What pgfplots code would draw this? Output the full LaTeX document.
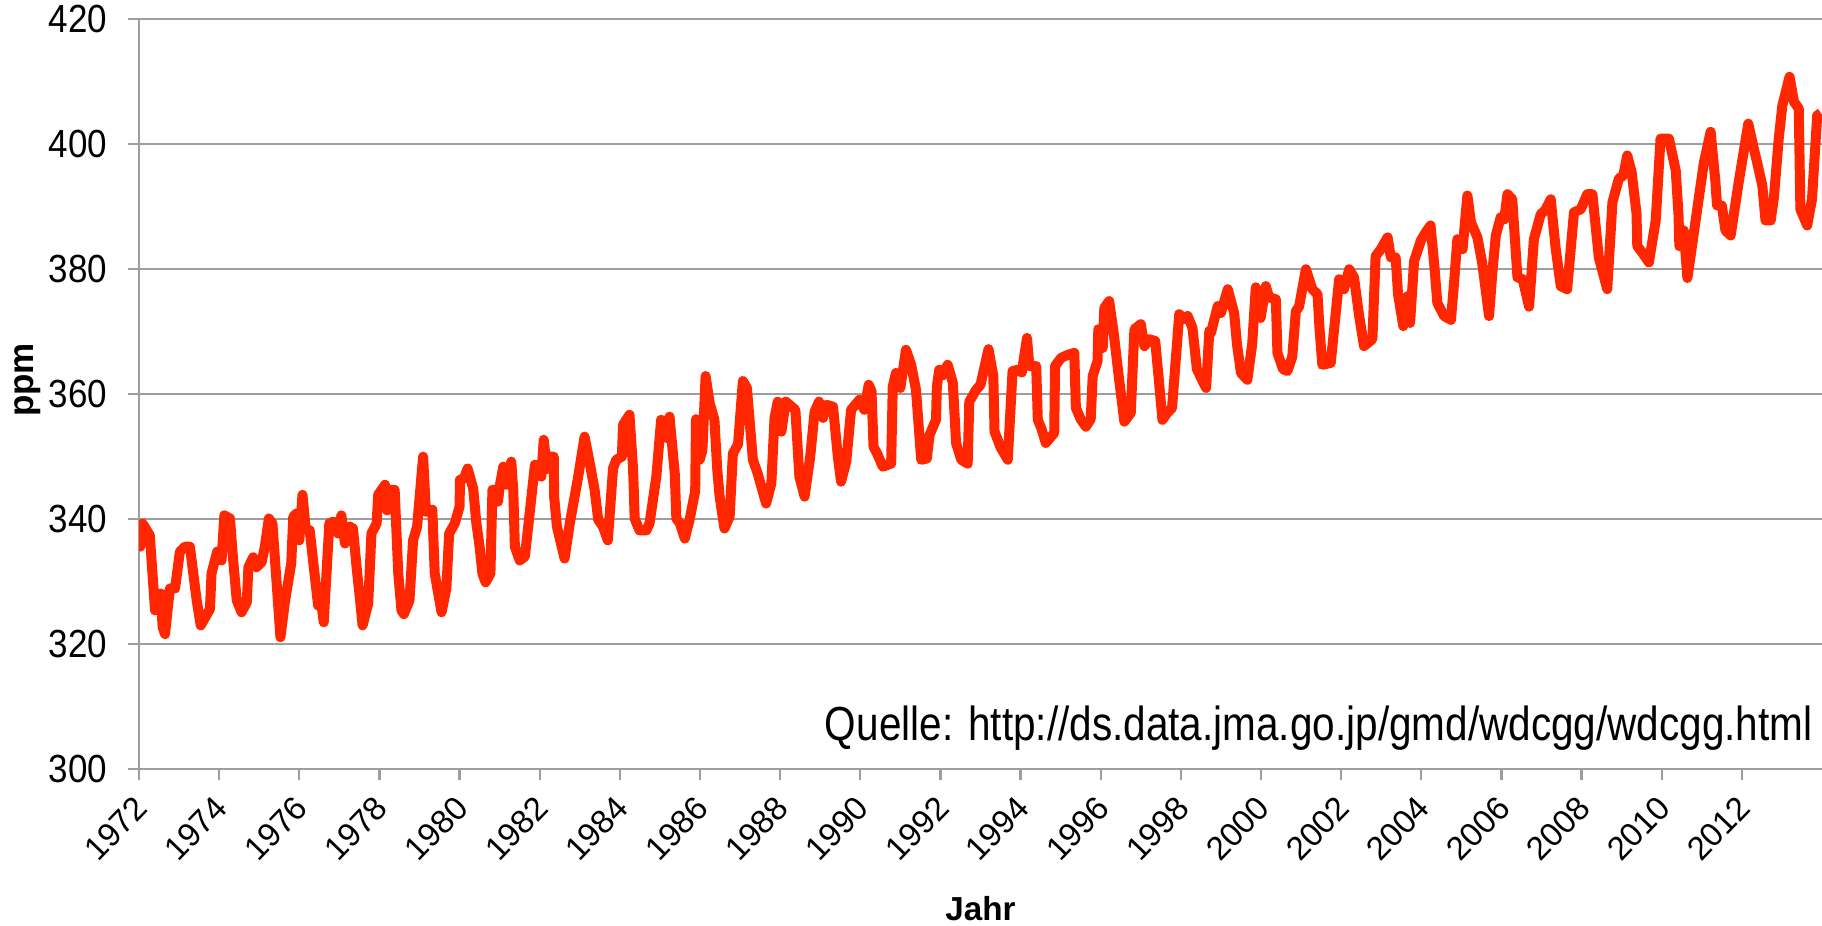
\documentclass[border=0pt]{standalone}
\usepackage{fontspec}
\setmainfont{Liberation Sans}
\usepackage{graphicx}
\usepackage{pgfplots}
\pgfplotsset{compat=1.18}
\definecolor{co2red}{RGB}{255,38,0}
\definecolor{gridgray}{RGB}{158,158,158}
\begin{document}
\begin{tikzpicture}
\begin{axis}[name=ax, scale only axis, width=673.2pt, height=299.9pt,
  xmin=1972, xmax=2014, ymin=300, ymax=420,
  axis lines*=left,
  axis line style={gridgray, line width=0.9pt},
  xtick={1972,1974,...,2012}, ytick={300,320,...,420},
  ymajorgrids, grid style={gridgray, line width=0.9pt},
  tick align=outside, major tick length=4.5pt,
  tick style={gridgray, line width=0.9pt},
  /pgf/number format/1000 sep={},
  /pgf/number format/assume math mode=true,
  tick label style={font=\fontsize{14}{16}\selectfont},
  yticklabel={\scalebox{1}[1.12]{\pgfmathprintnumber{\tick}}},
  yticklabel style={inner sep=0pt, xshift=-8pt},
  xticklabel style={font=\fontsize{13.2}{15}\selectfont, yshift=-8.5pt, xshift=1pt, rotate=46, anchor=east, inner sep=0pt},
  clip=true,
]
\addplot[co2red, line width=4pt, line join=round] table {
1972.00 336.0
1972.03 335.6
1972.09 339.3
1972.27 337.4
1972.36 329.1
1972.40 325.4
1972.54 328.1
1972.59 322.7
1972.65 321.6
1972.77 328.9
1972.90 328.9
1973.02 334.8
1973.15 335.6
1973.27 335.6
1973.44 327.0
1973.54 323.0
1973.77 325.6
1973.81 331.3
1973.95 334.8
1974.06 333.4
1974.13 340.6
1974.27 340.1
1974.35 333.4
1974.44 327.0
1974.56 325.1
1974.69 326.7
1974.73 332.3
1974.85 333.9
1974.93 332.3
1975.06 333.1
1975.14 335.6
1975.24 340.1
1975.33 339.3
1975.43 330.2
1975.53 321.1
1975.64 326.7
1975.80 333.0
1975.85 340.4
1975.93 340.9
1976.00 336.6
1976.08 343.9
1976.16 338.5
1976.26 338.2
1976.39 330.7
1976.47 326.2
1976.55 326.5
1976.61 323.5
1976.75 339.3
1976.85 339.6
1976.97 337.7
1977.05 340.6
1977.14 336.1
1977.26 338.8
1977.34 338.5
1977.43 332.3
1977.51 327.5
1977.58 323.0
1977.72 326.5
1977.80 337.7
1977.93 339.3
1977.97 343.9
1978.14 345.5
1978.19 341.4
1978.30 344.7
1978.38 344.7
1978.47 331.3
1978.55 325.4
1978.61 324.8
1978.75 327.0
1978.84 336.6
1978.94 338.8
1979.09 350.0
1979.16 341.2
1979.32 341.5
1979.38 331.3
1979.55 325.1
1979.67 328.9
1979.74 337.7
1979.88 339.3
1980.00 342.0
1980.01 346.3
1980.11 346.5
1980.20 348.1
1980.34 344.9
1980.42 339.3
1980.50 335.6
1980.57 331.3
1980.65 329.9
1980.77 331.3
1980.82 344.7
1980.92 344.7
1980.96 342.8
1981.00 345.2
1981.09 348.4
1981.17 345.5
1981.29 349.2
1981.34 344.7
1981.38 335.6
1981.50 333.4
1981.63 334.0
1981.75 341.0
1981.88 348.7
1982.04 346.8
1982.10 352.7
1982.18 348.0
1982.25 350.0
1982.35 350.0
1982.36 343.6
1982.43 338.8
1982.62 333.7
1982.75 339.3
1982.96 346.8
1983.12 353.2
1983.25 348.9
1983.37 344.7
1983.46 339.9
1983.58 338.8
1983.70 336.6
1983.83 348.1
1983.91 349.5
1984.05 350.0
1984.08 355.1
1984.24 356.7
1984.33 348.0
1984.37 340.1
1984.49 338.2
1984.66 338.2
1984.74 339.3
1984.91 346.8
1985.03 355.9
1985.16 353.0
1985.24 356.4
1985.37 347.3
1985.41 340.1
1985.50 339.3
1985.62 336.9
1985.74 339.9
1985.88 344.5
1985.90 356.0
1985.99 349.5
1986.06 351.0
1986.14 362.9
1986.24 358.6
1986.36 355.9
1986.43 348.0
1986.49 343.6
1986.61 338.5
1986.74 340.4
1986.82 350.5
1986.95 352.0
1987.07 362.1
1987.17 361.0
1987.32 349.5
1987.44 347.3
1987.65 342.5
1987.78 345.7
1987.86 356.2
1987.94 358.8
1988.03 354.0
1988.14 358.8
1988.38 357.5
1988.48 346.8
1988.61 343.6
1988.75 350.0
1988.86 357.2
1988.97 358.8
1989.07 356.2
1989.15 358.3
1989.32 358.0
1989.44 350.0
1989.52 346.0
1989.65 349.2
1989.77 357.5
1989.98 359.1
1990.10 357.5
1990.21 361.5
1990.28 360.5
1990.33 351.6
1990.42 350.5
1990.56 348.4
1990.77 348.9
1990.81 361.2
1990.89 363.4
1991.00 361.0
1991.14 367.1
1991.27 364.7
1991.39 360.7
1991.52 349.5
1991.66 349.7
1991.73 353.5
1991.89 355.9
1991.91 361.2
1991.97 363.9
1992.05 363.0
1992.18 364.7
1992.31 361.8
1992.39 352.2
1992.52 349.5
1992.68 348.9
1992.72 358.8
1992.89 360.7
1993.00 361.5
1993.20 367.2
1993.32 362.9
1993.35 354.0
1993.50 351.5
1993.68 349.5
1993.80 363.7
1993.93 363.9
1994.03 363.5
1994.16 369.0
1994.22 364.5
1994.39 364.5
1994.43 355.9
1994.52 354.5
1994.63 352.2
1994.84 353.8
1994.86 364.5
1995.01 365.8
1995.18 366.3
1995.34 366.6
1995.38 357.8
1995.50 356.0
1995.63 354.8
1995.75 356.0
1995.80 362.9
1995.92 365.3
1995.94 370.4
1996.05 367.4
1996.09 373.8
1996.21 374.9
1996.32 370.0
1996.46 362.3
1996.59 355.6
1996.75 357.0
1996.84 370.4
1997.00 371.2
1997.09 367.7
1997.21 368.8
1997.36 368.5
1997.44 363.0
1997.54 355.9
1997.66 357.0
1997.78 357.8
1997.96 372.8
1998.08 372.0
1998.17 372.5
1998.29 370.6
1998.40 364.0
1998.55 362.0
1998.63 361.0
1998.71 370.1
1998.75 369.8
1998.92 374.1
1999.00 373.0
1999.17 376.8
1999.33 373.0
1999.40 368.0
1999.50 363.4
1999.66 362.3
1999.78 368.0
1999.87 377.1
1999.99 372.2
2000.12 377.3
2000.20 375.5
2000.37 375.2
2000.41 366.6
2000.55 364.0
2000.66 363.7
2000.78 366.0
2000.87 373.3
2000.95 374.0
2001.12 380.0
2001.28 376.8
2001.41 376.0
2001.46 370.5
2001.53 364.7
2001.74 365.0
2001.95 378.4
2002.07 376.8
2002.20 380.0
2002.32 378.7
2002.45 372.5
2002.57 367.7
2002.78 368.8
2002.86 382.1
2002.99 383.2
2003.16 385.1
2003.24 381.9
2003.36 381.9
2003.42 376.0
2003.55 370.9
2003.66 375.7
2003.72 371.4
2003.82 381.3
2003.99 384.6
2004.12 386.0
2004.23 387.0
2004.32 381.0
2004.40 374.6
2004.57 372.5
2004.74 371.9
2004.82 378.0
2004.90 384.8
2005.03 383.2
2005.15 391.8
2005.24 387.5
2005.40 385.1
2005.52 381.0
2005.69 372.5
2005.78 380.0
2005.86 385.4
2005.98 388.3
2006.07 388.0
2006.15 392.0
2006.27 391.2
2006.40 378.7
2006.53 378.4
2006.69 374.0
2006.81 384.8
2006.98 388.8
2007.10 389.5
2007.23 391.2
2007.35 383.5
2007.48 377.3
2007.64 376.8
2007.81 389.1
2007.98 389.6
2008.14 392.0
2008.27 392.0
2008.43 381.9
2008.64 376.8
2008.77 390.7
2008.93 394.5
2009.04 395.0
2009.14 398.2
2009.25 395.5
2009.37 389.0
2009.39 383.7
2009.51 382.7
2009.68 381.1
2009.85 387.8
2009.97 400.9
2010.18 400.9
2010.35 395.8
2010.42 388.6
2010.44 383.7
2010.55 386.2
2010.64 378.6
2010.72 382.1
2010.85 388.0
2011.05 397.0
2011.22 402.0
2011.34 394.0
2011.38 390.2
2011.50 390.2
2011.59 386.2
2011.72 385.4
2011.92 393.9
2012.16 403.3
2012.28 399.8
2012.38 397.1
2012.51 393.4
2012.59 387.8
2012.72 387.8
2012.80 391.5
2012.92 400.9
2013.01 406.2
2013.19 410.8
2013.30 406.8
2013.42 405.7
2013.46 389.6
2013.63 387.0
2013.75 391.2
2013.88 404.6
2013.97 405.0
};
\node[anchor=base east, inner sep=0pt, font=\fontsize{16.2}{19}\selectfont] at ([xshift=-3.6pt,yshift=11.5pt]rel axis cs:1,0) {\scalebox{1}[1.18]{Quelle: http://ds.data.jma.go.jp/gmd/wdcgg/wdcgg.html}};
\end{axis}
\node[rotate=90, font=\bfseries\fontsize{14}{16}\selectfont] at ([xshift=-44.6pt,yshift=155.6pt]ax.south west) {ppm};
\node[anchor=base, inner sep=0pt, font=\bfseries\fontsize{13.3}{16}\selectfont] at ([yshift=-60.4pt]ax.south) {Jahr};
\pgfresetboundingbox
\path ([xshift=-55.6pt,yshift=-62.4pt]ax.south west) rectangle ([yshift=7.72pt]ax.north east);
\end{tikzpicture}
\end{document}
